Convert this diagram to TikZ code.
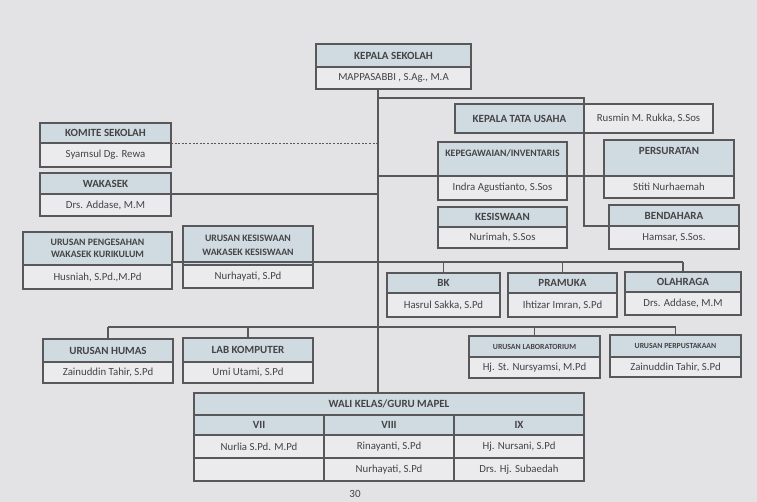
\documentclass[tikz,border=0pt]{standalone}
\usepackage{fontspec}
\setmainfont{Carlito}
\usetikzlibrary{positioning}

\definecolor{pagebg}{HTML}{E3E3E5}
\definecolor{hdfill}{HTML}{D0DBE1}
\definecolor{bdfill}{HTML}{EBEBED}
\definecolor{boxline}{HTML}{58585A}
\definecolor{txtgray}{HTML}{444446}

\tikzset{every picture/.style={line width=1.1pt}}
\tikzset{
	hcell/.style={draw=boxline, fill=hdfill, text=txtgray, font=\fontsize{11}{12}\selectfont\bfseries, inner sep=1pt, outer sep=0pt, align=center, anchor=north west},
	bcell/.style={draw=boxline, fill=bdfill, text=txtgray, font=\fontsize{10.8}{12}\selectfont, inner sep=1pt, outer sep=0pt},
	smallhd/.style={font=\fontsize{7.8}{9}\selectfont\bfseries},
	link/.style={draw=boxline, line width=1.1pt},
	dotlink/.style={draw=boxline, line width=0.9pt, dash pattern={on 2pt off 1.6pt}},
}

\begin{document}
\begin{tikzpicture}[x=1pt,y=1pt,yscale=-1]
	%set diagram left start at 0, size 757 x 502
	\fill[pagebg] (0,0) rectangle (757,502);
	\useasboundingbox (0,0) rectangle (757,502);

	%Shape: KEPALA SEKOLAH
	\node[hcell, minimum width=155pt, minimum height=23pt] (ksH) at (316,44) {KEPALA SEKOLAH};
	\node[bcell, below=0pt of ksH, minimum width=155pt, minimum height=22pt] (ksB) {MAPPASABBI , S.Ag., M.A};
	%Shape: KOMITE SEKOLAH
	\node[hcell, minimum width=131pt, minimum height=20pt] (komiteH) at (40,123) {KOMITE SEKOLAH};
	\node[bcell, below=0pt of komiteH, minimum width=131pt, minimum height=24pt] (komiteB) {Syamsul Dg. Rewa};
	%Shape: WAKASEK
	\node[hcell, minimum width=131pt, minimum height=21pt] (wakasekH) at (40,173) {WAKASEK};
	\node[bcell, below=0pt of wakasekH, minimum width=131pt, minimum height=22pt] (wakasekB) {Drs. Addase, M.M};
	%Shape: KEPALA TATA USAHA
	\node[hcell, minimum width=129pt, minimum height=29pt] (ktuH) at (455,104) {KEPALA TATA USAHA};
	\node[bcell, right=0pt of ktuH, minimum width=129pt, minimum height=29pt] (ktuB) {Rusmin M. Rukka, S.Sos};
	%Shape: KEPEGAWAIAN/INVENTARIS
	\node[hcell, minimum width=129pt, minimum height=34pt] (kepegH) at (438,142) {};
	\node[anchor=north, text=txtgray, font=\fontsize{9.8}{11}\selectfont\bfseries, inner sep=0pt] (kepegT) at ([yshift=7pt]kepegH.north) {KEPEGAWAIAN/INVENTARIS};
	\node[bcell, below=0pt of kepegH, minimum width=129pt, minimum height=24pt] (kepegB) {Indra Agustianto, S.Sos};
	%Shape: PERSURATAN
	\node[hcell, minimum width=130pt, minimum height=36pt] (persH) at (604,140) {};
	\node[anchor=north, text=txtgray, font=\fontsize{11}{12}\selectfont\bfseries, inner sep=0pt] (persT) at ([yshift=7pt]persH.north) {PERSURATAN};
	\node[bcell, below=0pt of persH, minimum width=130pt, minimum height=22pt] (persB) {Stiti Nurhaemah};
	%Shape: KESISWAAN
	\node[hcell, minimum width=129pt, minimum height=20pt] (kesisH) at (438,207) {KESISWAAN};
	\node[bcell, below=0pt of kesisH, minimum width=129pt, minimum height=21pt] (kesisB) {Nurimah, S.Sos};
	%Shape: BENDAHARA
	\node[hcell, minimum width=130pt, minimum height=21pt] (bendH) at (609,205) {BENDAHARA};
	\node[bcell, below=0pt of bendH, minimum width=130pt, minimum height=23pt] (bendB) {Hamsar, S.Sos.};
	%Shape: URUSAN PENGESAHAN
	\node[hcell, minimum width=149pt, minimum height=33pt, font=\fontsize{9.8}{12}\selectfont\bfseries] (pengH) at (23,232) {URUSAN PENGESAHAN\\WAKASEK KURIKULUM};
	\node[bcell, below=0pt of pengH, minimum width=149pt, minimum height=24pt] (pengB) {Husniah, S.Pd.,M.Pd};
	%Shape: URUSAN KESISWAAN
	\node[hcell, minimum width=130pt, minimum height=39pt, font=\fontsize{9.8}{14}\selectfont\bfseries] (ukesH) at (183,226) {URUSAN KESISWAAN\\WAKASEK KESISWAAN};
	\node[bcell, below=0pt of ukesH, minimum width=130pt, minimum height=23pt] (ukesB) {Nurhayati, S.Pd};
	%Shape: BK
	\node[hcell, minimum width=113pt, minimum height=20pt] (bkH) at (387,273) {BK};
	\node[bcell, below=0pt of bkH, minimum width=113pt, minimum height=24pt] (bkB) {Hasrul Sakka, S.Pd};
	%Shape: PRAMUKA
	\node[hcell, minimum width=109pt, minimum height=20pt] (pramH) at (508,273) {PRAMUKA};
	\node[bcell, below=0pt of pramH, minimum width=109pt, minimum height=24pt] (pramB) {Ihtizar Imran, S.Pd};
	%Shape: OLAHRAGA
	\node[hcell, minimum width=116pt, minimum height=20pt] (olahH) at (625,272) {OLAHRAGA};
	\node[bcell, below=0pt of olahH, minimum width=116pt, minimum height=23pt] (olahB) {Drs. Addase, M.M};
	%Shape: URUSAN HUMAS
	\node[hcell, minimum width=130pt, minimum height=23pt] (humasH) at (43,339) {URUSAN HUMAS};
	\node[bcell, below=0pt of humasH, minimum width=130pt, minimum height=21pt] (humasB) {Zainuddin Tahir, S.Pd};
	%Shape: LAB KOMPUTER
	\node[hcell, minimum width=130pt, minimum height=24pt] (labH) at (183,338) {LAB KOMPUTER};
	\node[bcell, below=0pt of labH, minimum width=130pt, minimum height=21pt] (labB) {Umi Utami, S.Pd};
	%Shape: URUSAN LABORATORIUM
	\node[hcell, smallhd, minimum width=131pt, minimum height=21pt] (ulabH) at (469,336) {URUSAN LABORATORIUM};
	\node[bcell, below=0pt of ulabH, minimum width=131pt, minimum height=21pt] (ulabB) {Hj. St. Nursyamsi, M.Pd};
	%Shape: URUSAN PERPUSTAKAAN
	\node[hcell, smallhd, minimum width=131pt, minimum height=22pt] (perpH) at (610,335) {URUSAN PERPUSTAKAAN};
	\node[bcell, below=0pt of perpH, minimum width=131pt, minimum height=20pt] (perpB) {Zainuddin Tahir, S.Pd};

	%Shape: WALI KELAS table
	\node[hcell, minimum width=390pt, minimum height=22pt] (wali) at (194,393) {WALI KELAS/GURU MAPEL};
	\node[hcell, minimum width=130pt, minimum height=20pt] (kls7) at (194,415) {VII};
	\node[hcell, right=0pt of kls7, anchor=west, minimum width=130pt, minimum height=20pt] (kls8) {VIII};
	\node[hcell, right=0pt of kls8, anchor=west, minimum width=130pt, minimum height=20pt] (kls9) {IX};
	\node[bcell, below=0pt of kls7, minimum width=130pt, minimum height=23pt] (guruA7) {Nurlia S.Pd. M.Pd};
	\node[bcell, below=0pt of kls8, minimum width=130pt, minimum height=23pt] (guruA8) {Rinayanti, S.Pd};
	\node[bcell, below=0pt of kls9, minimum width=130pt, minimum height=23pt] (guruA9) {Hj. Nursani, S.Pd};
	\node[bcell, below=0pt of guruA7, minimum width=130pt, minimum height=23pt] (guruB7) {};
	\node[bcell, below=0pt of guruA8, minimum width=130pt, minimum height=23pt] (guruB8) {Nurhayati, S.Pd};
	\node[bcell, below=0pt of guruA9, minimum width=130pt, minimum height=23pt] (guruB9) {Drs. Hj. Subaedah};

	%Straight Lines: trunk
	\coordinate (trunk) at (378,89);
	\draw[link] (trunk) -- (trunk |- wali.north);
	%Straight Lines: tata usaha branch
	\coordinate (tuTop) at (584,98);
	\draw[link] (trunk |- tuTop) -- (tuTop) -- (tuTop |- bendH.south west) -- (bendH.south west);
	%Straight Lines: left branches
	\draw[dotlink] (komiteH.south east) -- (komiteH.south east -| trunk);
	\draw[link] (wakasekH.south east) -- (wakasekH.south east -| trunk);
	%Straight Lines: kepegawaian row
	\draw[link] (kepegH.south west -| trunk) -- (kepegH.south west);
	\draw[link] (kepegH.south east) -- (persH.south west);
	%Straight Lines: middle bar
	\coordinate (midBar) at (378,262);
	\draw[link] (pengH.east |- midBar) -- (olahH.north |- midBar);
	\draw[link] (bkH.north |- midBar) -- (bkH.north);
	\draw[link] (pramH.north |- midBar) -- (pramH.north);
	\draw[link] (olahH.north |- midBar) -- (olahH.north);
	%Straight Lines: lower bar
	\coordinate (lowBar) at (378,327);
	\draw[link] (humasH.north |- lowBar) -- (perpH.north |- lowBar);
	\draw[link] (humasH.north |- lowBar) -- (humasH.north);
	\draw[link] (labH.north |- lowBar) -- (labH.north);
	\draw[link] (ulabH.north |- lowBar) -- (ulabH.north);
	\draw[link] (perpH.north |- lowBar) -- (perpH.north);

	% Text Node
	\node[text=txtgray, font=\fontsize{11}{12}\selectfont] (pageNo) at (355,494) {30};

\end{tikzpicture}
\end{document}
